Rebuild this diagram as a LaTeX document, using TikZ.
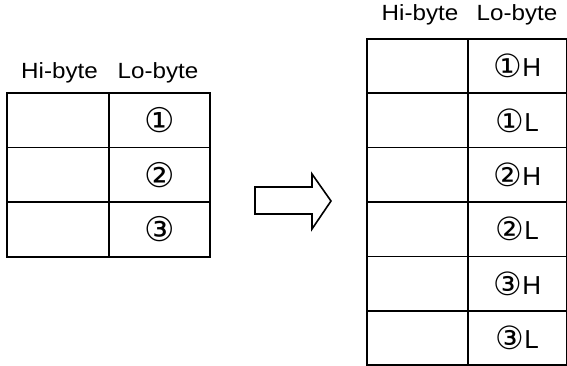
\documentclass[tikz,border=0pt]{standalone}
\usepackage{fontspec}
\setmainfont{Liberation Sans}
\newfontfamily\hdrfont[FakeStretch=1.1]{Liberation Sans}
\newfontfamily\circfont{DejaVu Sans}

\tikzset{
  cell/.style={draw, line width=1.6pt, inner sep=0pt, anchor=north west},
  hdr/.style={anchor=base, inner sep=0pt, font=\hdrfont\fontsize{22}{22}\selectfont},
  celltext/.style={font=\fontsize{26}{26}\selectfont},
  digit/.style={font=\circfont\fontsize{34}{34}\selectfont}
}

\begin{document}
\begin{tikzpicture}[x=1pt, y=-1pt]
  \useasboundingbox (0,0) rectangle (567,365);

  % source table
  \foreach \i/\n in {1/①,2/②,3/③} {
    \node[cell, minimum width=102pt, minimum height=54.7pt] (lhi\i) at (6,{92+54.7*(\i-1)}) {};
    \node[cell, digit, minimum width=101pt, minimum height=54.7pt] (llo\i) at (108,{92+54.7*(\i-1)}) {\n};
  }
  \node[hdr] (lhihdr) at (59.5,78) {Hi-byte};
  \node[hdr] (llohdr) at (158,78) {Lo-byte};

  % arrow
  \draw[line width=1.6pt, line join=miter] (255,187) -- (312,187) -- (312,174) -- (331,201)
    -- (312,229) -- (312,214) -- (255,214) -- cycle;

  % target table
  \foreach \i/\n/\c in {1/①/H,2/①/L,3/②/H,4/②/L,5/③/H,6/③/L} {
    \node[cell, minimum width=101pt, minimum height=54.4pt] (rhi\i) at (366,{38+54.4*(\i-1)}) {};
    \node[cell, celltext, minimum width=99pt, minimum height=54.4pt] (rlo\i) at (467,{38+54.4*(\i-1)})
      {\raisebox{-1pt}{\circfont\fontsize{32}{32}\selectfont\n}\c};
  }
  \node[hdr] (rhihdr) at (420,20) {Hi-byte};
  \node[hdr] (rlohdr) at (517,20) {Lo-byte};
\end{tikzpicture}
\end{document}
